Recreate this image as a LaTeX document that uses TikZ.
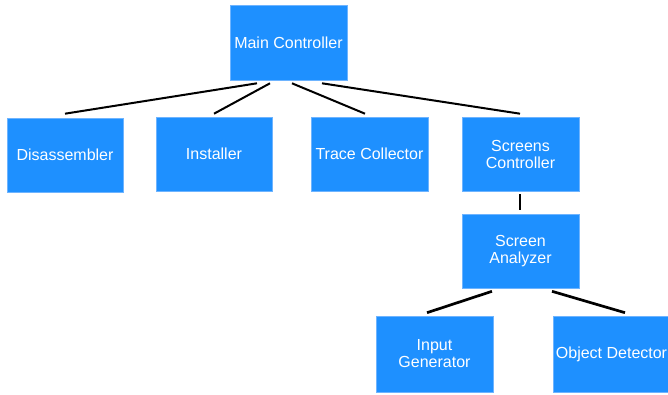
\documentclass[tikz,border=0pt]{standalone}
\usepackage{fontspec}
\setmainfont{Liberation Sans}
\definecolor{boxfill}{RGB}{30,144,255}
\definecolor{boxline}{RGB}{110,180,255}
\begin{document}
\begin{tikzpicture}[x=1pt,y=-1pt,
  comp/.style={draw=boxline, line width=0.6pt, fill=boxfill, text=white,
    minimum width=117pt, minimum height=74pt, inner sep=0pt, align=center,
    font=\fontsize{16pt}{17pt}\selectfont},
  link/.style={draw=black, line width=2pt},
  thicklink/.style={draw=black, line width=2.7pt}]
\useasboundingbox (0,0) rectangle (668,395);
\node[comp, minimum height=75pt] (main) at (288.5,42.5) {Main Controller};
\node[comp, minimum width=116pt] (dis) at (65,155) {Disassembler};
\node[comp, minimum width=116pt] (ins) at (214,154) {Installer};
\node[comp] (trace) at (369.5,154) {Trace Collector};
\node[comp] (scr) at (520.5,154) {Screens\\Controller};
\node[comp] (ana) at (520.5,251) {Screen\\Analyzer};
\node[comp, minimum height=76pt] (inp) at (434.5,354) {Input\\Generator};
\node[comp, minimum height=76pt] (obj) at (611.5,354) {Object Detector};
\draw[link] ([xshift=-31.5pt,yshift=-3pt]main.south) -- ([yshift=4pt]dis.north);
\draw[link] ([xshift=-18.5pt,yshift=-3pt]main.south) -- ([yshift=3pt]ins.north);
\draw[link] ([xshift=3.5pt,yshift=-3pt]main.south) -- ([xshift=-4.5pt,yshift=3pt]trace.north);
\draw[link] ([xshift=33.5pt,yshift=-3pt]main.south) -- ([xshift=-0.5pt,yshift=3pt]scr.north);
\draw[link] ([xshift=-0.5pt,yshift=-3pt]scr.south) -- ([xshift=-0.5pt,yshift=4pt]ana.north);
\draw[thicklink] ([xshift=-28.5pt,yshift=-3pt]ana.south) -- ([xshift=-7.5pt,yshift=3pt]inp.north);
\draw[thicklink] ([xshift=31.5pt,yshift=-3pt]ana.south) -- ([xshift=13.5pt,yshift=3pt]obj.north);
\end{tikzpicture}
\end{document}
